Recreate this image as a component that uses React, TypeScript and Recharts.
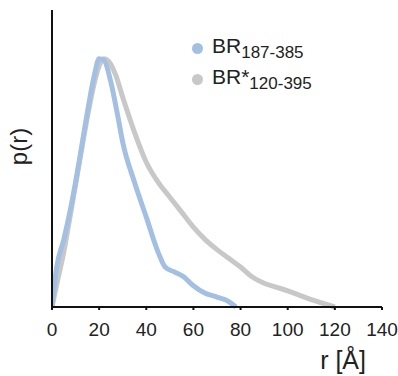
import { LineChart, Line, XAxis, YAxis, Label } from 'recharts'

// r [Å] positions and p(r) values (normalised to peak = 1)
const rShort = [0, 2, 5, 8, 10, 12, 15, 18, 20, 22, 25, 28, 30, 35, 40, 45, 48, 52, 56, 60, 65, 70, 75, 78]
const pShort = [0, 0.16, 0.27, 0.4, 0.5, 0.61, 0.78, 0.93, 0.995, 0.99, 0.9, 0.76, 0.66, 0.5, 0.36, 0.22, 0.16, 0.14, 0.12, 0.085, 0.055, 0.04, 0.022, 0]

const rLong = [0, 2, 5, 8, 10, 12, 15, 18, 20, 22, 24, 27, 30, 35, 40, 45, 50, 55, 60, 65, 70, 75, 80, 85, 90, 95, 100, 105, 110, 115, 120]
const pLong = [0, 0.09, 0.22, 0.38, 0.49, 0.6, 0.76, 0.9, 0.965, 0.995, 0.985, 0.93, 0.84, 0.7, 0.58, 0.5, 0.44, 0.38, 0.32, 0.27, 0.23, 0.195, 0.16, 0.12, 0.095, 0.08, 0.065, 0.047, 0.03, 0.015, 0]

const xTicks = [0, 20, 40, 60, 80, 100, 120, 140]

const series = [
  { name: 'BR', sub: '187-385', color: '#a3c0e2', r: rShort, p: pShort },
  { name: 'BR*', sub: '120-395', color: '#c8c8c8', r: rLong, p: pLong },
]

const FONT = 'Arial, "Liberation Sans", sans-serif'

// legend drawn as an overlay so it doesn't push the plot area down
const LegendBox = () => (
  <div style={{ position: 'absolute', left: 192, top: 33, fontFamily: FONT, color: '#222' }}>
    {series.map(s => (
      <div key={s.name} style={{ display: 'flex', alignItems: 'center', height: 31 }}>
        <span style={{ width: 11, height: 11, borderRadius: 6, background: s.color, marginRight: 9 }} />
        <span style={{ fontSize: 21 }}>
          {s.name}
          <sub style={{ fontSize: 17, verticalAlign: -5 }}>{s.sub}</sub>
        </span>
      </div>
    ))}
  </div>
)

export default function App() {
  return (
    <div style={{ position: 'absolute', left: 0, top: 0, width: 398, height: 376, background: '#fff' }}>
      <LineChart width={398} height={376} margin={{ top: 10, right: 16, bottom: 39, left: 0 }}>
        <XAxis
          type="number"
          dataKey="r"
          domain={[0, 140]}
          ticks={xTicks}
          interval={0}
          allowDataOverflow
          stroke="#111"
          strokeWidth={2}
          tickSize={3}
          height={30}
          tick={{ fill: '#222', fontSize: 19, fontFamily: FONT, dy: 11 }}
        >
          <Label
            value="r [Å]"
            position="insideBottomRight"
            offset={-32}
            dx={-48}
            style={{ fill: '#222', fontSize: 25, fontFamily: FONT }}
          />
        </XAxis>
        <YAxis
          type="number"
          domain={[0, 1.19]}
          width={52}
          tick={false}
          tickLine={false}
          stroke="#111"
          strokeWidth={2}
        >
          <Label
            value="p(r)"
            angle={-90}
            position="insideLeft"
            offset={18}
            dy={-12}
            style={{ fill: '#222', fontSize: 24, fontFamily: FONT, textAnchor: 'middle' }}
          />
        </YAxis>
        {series.map(s => (
          <Line
            key={s.name}
            data={s.r.map((r, i) => ({ r, p: s.p[i] }))}
            dataKey="p"
            type="monotone"
            stroke={s.color}
            strokeWidth={5}
            dot={false}
            isAnimationActive={false}
          />
        )).reverse()}
      </LineChart>
      <LegendBox />
    </div>
  )
}
